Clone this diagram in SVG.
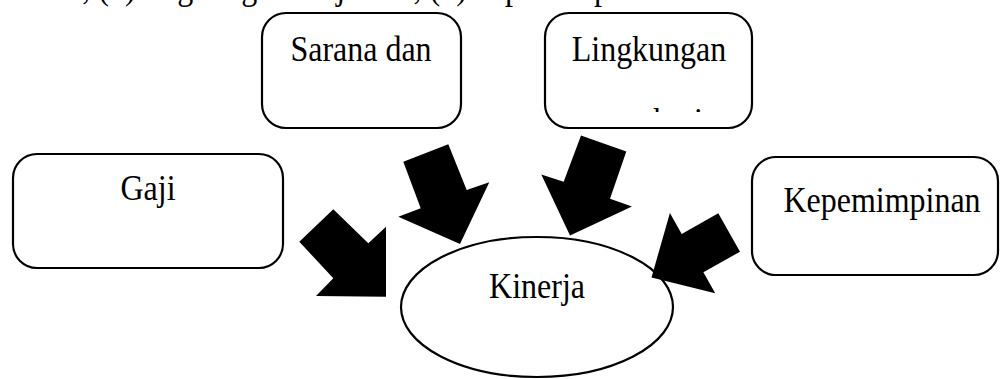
<svg xmlns="http://www.w3.org/2000/svg" width="1001" height="379" viewBox="0 0 1001 379">
  <style>
    .box { fill: #ffffff; stroke: #000000; stroke-width: 2.2; }
    .lbl { font-family: "Liberation Serif", "Times New Roman", serif; font-size: 32px; fill: #000000; }
    .arrow { fill: #000000; stroke: none; }
  </style>
  <defs>
    <clipPath id="clipLing">
      <rect x="-120" y="-40" width="240" height="21"/>
    </clipPath>
  </defs>
  <rect width="1001" height="379" fill="#ffffff"/>
  <text class="lbl" transform="translate(673,-1) scale(1,1.1)" x="0" y="0" text-anchor="end">sarana dan prasarana, (3) lingkungan kerja dan, (4) kepemimpinan.</text>

  <g id="node-sarana">
    <rect class="box" x="262" y="13" width="199" height="115" rx="24" ry="24"/>
    <text class="lbl" transform="translate(361,61) scale(1,1.1)" x="0" y="0" text-anchor="middle">Sarana dan</text>
  </g>
  <g id="node-lingkungan">
    <rect class="box" x="545" y="13" width="207" height="115" rx="24" ry="24"/>
    <text class="lbl" transform="translate(649,61) scale(1,1.1)" x="0" y="0" text-anchor="middle">Lingkungan</text>
    <g transform="translate(653,133) scale(1,1.1)">
      <text class="lbl" x="0" y="0" clip-path="url(#clipLing)">kerja</text>
    </g>
  </g>
  <g id="node-gaji">
    <rect class="box" x="13" y="154" width="270" height="114" rx="24" ry="24"/>
    <text class="lbl" transform="translate(148,200) scale(1,1.1)" x="0" y="0" text-anchor="middle">Gaji</text>
  </g>
  <g id="node-kepemimpinan">
    <rect class="box" x="752" y="157" width="246" height="118" rx="24" ry="24"/>
    <text class="lbl" transform="translate(882,212) scale(1,1.1)" x="0" y="0" text-anchor="middle">Kepemimpinan</text>
  </g>
  <g id="node-kinerja">
    <ellipse class="box" cx="537" cy="307" rx="136" ry="70"/>
    <text class="lbl" transform="translate(537,298) scale(1,1.1)" x="0" y="0" text-anchor="middle">Kinerja</text>
  </g>

  <g id="connectors">
    <polygon class="arrow" points="333.3,209.3 368.3,243.3 386,226.7 386,296.7 316,296 333.3,278.3 299.3,241.7"/>
    <polygon class="arrow" points="403.3,161.7 448.3,144.3 466.7,190 489.3,182.3 460,244 398.3,216.7 420.7,208.3"/>
    <polygon class="arrow" points="581,135.5 626.3,151.5 610,198.8 632,206.5 570,235.5 541.3,174.5 563.7,181.7"/>
    <polygon class="arrow" points="718.3,213.3 740,251.7 703.4,272.3 715.2,293.2 651.5,277.5 669.9,213 681.7,233.9"/>
  </g>
</svg>
